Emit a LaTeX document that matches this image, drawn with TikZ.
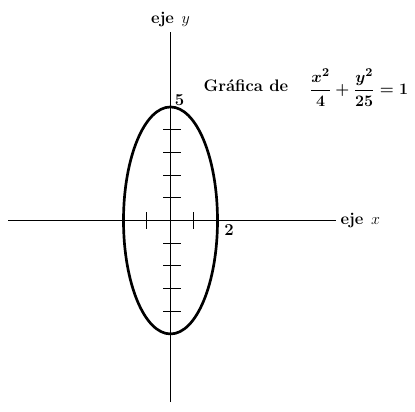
\documentclass[tikz,border=0pt]{standalone}
\usepackage{amsmath, amssymb}
\usepackage{tikz}
\usetikzlibrary{positioning}
\newcommand{\labelsize}{\fontsize{12.5}{15}\selectfont}
\tikzset{
  axisline/.style={line width=1pt},
  curveline/.style={line width=2pt},
  tickline/.style={line width=0.75pt},
  axislabel/.style={font=\labelsize\bfseries, inner sep=1pt},
  numlabel/.style={font=\labelsize\bfseries, inner sep=1pt},
  titlelabel/.style={font=\labelsize\bfseries\boldmath, inner sep=0pt}
}
\begin{document}
\begin{tikzpicture}[x=17.6pt, y=17pt]
  \useasboundingbox (-7.255,-8.429) rectangle (10.404,9.712);
  % ejes
  \coordinate (xl) at (-6.91,0);
  \coordinate (xr) at (7.06,0);
  \coordinate (yb) at (0,-8.0);
  \coordinate (yt) at (0,8.3);
  \draw[axisline] (xl) -- (xr);
  \draw[axisline] (yb) -- (yt);
  % elipse
  \draw[curveline] (0,0) ellipse [x radius=2, y radius=5];
  % marcas
  \foreach \k in {-1,1}
    \draw[tickline] (\k,-0.37) -- (\k,0.37);
  \foreach \k in {-4,...,-1,1,2,...,4}
    \draw[tickline] (-0.3,\k) -- (0.43,\k);
  % textos
  \node[axislabel, right=2pt of xr] (ejex) {eje\hspace{0.45em}$x$};
  \node[axislabel, above=3pt of yt] (ejey) {eje\hspace{0.45em}$y$};
  \node[numlabel, above right=0pt and 2pt of {(0,5)}] (cinco) {5};
  \node[numlabel, below right=2pt and 4pt of {(2,0)}] (dos) {2};
  \node[titlelabel] (titulo) at (3.21,5.95) {Gráfica de};
  \node[titlelabel] (ecuacion) at (8.02,5.86)
    {$\dfrac{x^2}{4}+\dfrac{y^2}{25}=1$};
\end{tikzpicture}
\end{document}
